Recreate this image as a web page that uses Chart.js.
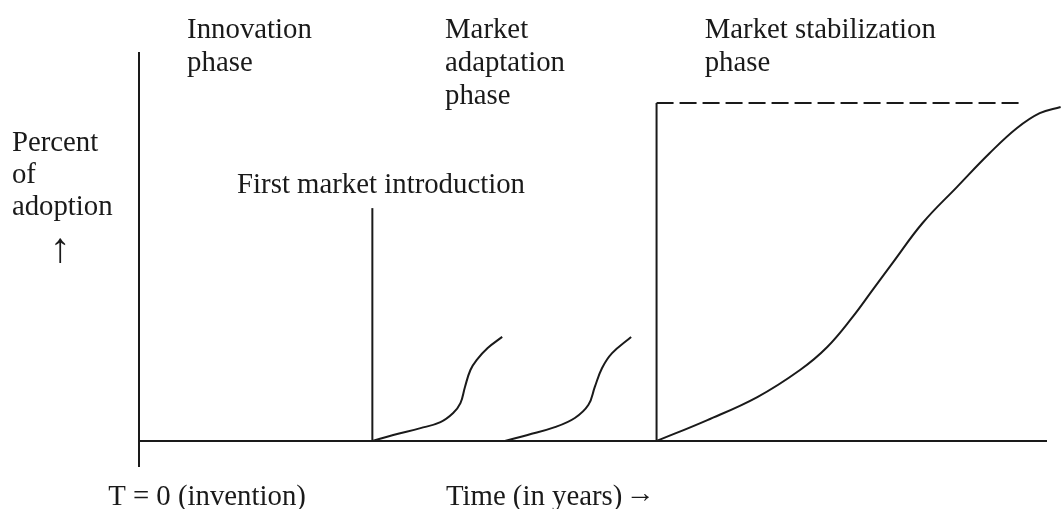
<!DOCTYPE html>
<html>
<head>
<meta charset="utf-8">
<script src="https://cdn.jsdelivr.net/npm/chart.js@4/dist/chart.umd.min.js"></script>
<style>
  html, body { margin: 0; padding: 0; background: #fff; }
  #wrap { width: 1061px; height: 509px; }
</style>
</head>
<body>
<div id="wrap"><canvas id="chart"></canvas></div>
<script>
// ── Data (time in arbitrary units, adoption in percent of saturation) ──
const introTime = [25.7, 28.0, 31.0, 33.2, 34.6, 35.4, 35.9, 36.5, 37.2, 38.4, 40.0];
const introAdoption = [0, 1.8, 3.8, 5.6, 8.3, 11.2, 16.0, 21.0, 24.0, 27.5, 30.8];

const adaptTime = [40.3, 42.8, 45.8, 48.0, 49.5, 50.2, 51.0, 52.1, 54.2];
const adaptAdoption = [0, 1.8, 4.1, 6.8, 10.7, 16.0, 21.6, 26.0, 30.8];

const stabTime = [57.0, 62.6, 68.1, 72.8, 75.8, 78.6, 80.8, 83.0, 86.3, 90.1, 93.7, 96.7, 99.2, 101.5];
const stabAdoption = [0, 6.2, 13.0, 21.0, 27.8, 36.7, 44.7, 52.7, 64.5, 75.2, 85.2, 92.6, 97.0, 98.8];

// phase markers
const firstIntroTime = 25.7;
const firstIntroHeight = 68.9;
const stabStartTime = 57.0;
const saturationLevel = 100;
const saturationEnd = 97.0;
const timeAxisEnd = 100;
const adoptionAxisTop = 115.1;
const adoptionAxisBottom = -7.7;

// ── Text ──
const labels = [
  { text: 'Innovation', t: 5.3, p: 119.2 },
  { text: 'phase', t: 5.3, p: 109.5 },
  { text: 'Market', t: 33.7, p: 119.2 },
  { text: 'adaptation', t: 33.7, p: 109.5 },
  { text: 'phase', t: 33.7, p: 99.7 },
  { text: 'Market stabilization', t: 62.3, p: 119.2 },
  { text: 'phase', t: 62.3, p: 109.5 },
  { text: 'Percent', t: -14.0, p: 85.8 },
  { text: 'of', t: -14.0, p: 76.3 },
  { text: 'adoption', t: -14.0, p: 66.9 },
  { text: 'First market introduction', t: 10.8, p: 73.4 },
  { text: 'T = 0 (invention)', t: -3.4, p: -18.9 },
  { text: 'Time (in years)', t: 33.8, p: -18.9 },
];
const arrows = [
  { text: '\u2191', t: -8.7, p: 56.2, size: 42 },
  { text: '\u2192', t: 55.2, p: -15.7, size: 29 },
];

const INK = '#1a1a1a';
const FONT = '28.8px "Liberation Serif", "Times New Roman", serif';

// ── Helpers ──
function toPoints(xs, ys) {
  return xs.map((x, i) => ({ x, y: ys[i] }));
}

function segment(points, extra) {
  return Object.assign({
    data: points,
    showLine: true,
    borderColor: INK,
    borderWidth: 2,
    pointRadius: 0,
    clip: false,
  }, extra || {});
}

// ── Text plugin ──
const textPlugin = {
  id: 'diagramText',
  afterDatasetsDraw(chart) {
    const { ctx, scales: { x, y } } = chart;
    ctx.save();
    ctx.fillStyle = INK;
    ctx.font = FONT;
    ctx.textAlign = 'left';
    ctx.textBaseline = 'alphabetic';
    labels.forEach(l => {
      ctx.fillText(l.text, x.getPixelForValue(l.t), y.getPixelForValue(l.p));
    });
    ctx.textAlign = 'center';
    ctx.textBaseline = 'middle';
    arrows.forEach(a => {
      ctx.font = `${a.size}px "Liberation Serif", serif`;
      ctx.fillText(a.text, x.getPixelForValue(a.t), y.getPixelForValue(a.p));
    });
    ctx.restore();
  }
};

// ── Chart ──
new Chart(document.getElementById('chart'), {
  type: 'scatter',
  data: {
    datasets: [
      segment([{ x: 0, y: adoptionAxisTop }, { x: 0, y: adoptionAxisBottom }]),
      segment([{ x: 0, y: 0 }, { x: timeAxisEnd, y: 0 }]),
      segment([{ x: firstIntroTime, y: 0 }, { x: firstIntroTime, y: firstIntroHeight }]),
      segment([{ x: stabStartTime, y: 0 }, { x: stabStartTime, y: saturationLevel }]),
      segment([{ x: stabStartTime, y: saturationLevel }, { x: saturationEnd, y: saturationLevel }], { borderDash: [17, 6] }),
      segment(toPoints(introTime, introAdoption), { tension: 0.4 }),
      segment(toPoints(adaptTime, adaptAdoption), { tension: 0.4 }),
      segment(toPoints(stabTime, stabAdoption), { tension: 0.4 }),
    ]
  },
  options: {
    responsive: true,
    maintainAspectRatio: false,
    animation: false,
    layout: { padding: { left: 139, right: 14, top: 103, bottom: 68 } },
    scales: {
      x: { type: 'linear', min: 0, max: 100, display: false },
      y: { type: 'linear', min: 0, max: 100, display: false }
    },
    plugins: {
      legend: { display: false },
      tooltip: { enabled: false }
    }
  },
  plugins: [textPlugin]
});
</script>
</body>
</html>
